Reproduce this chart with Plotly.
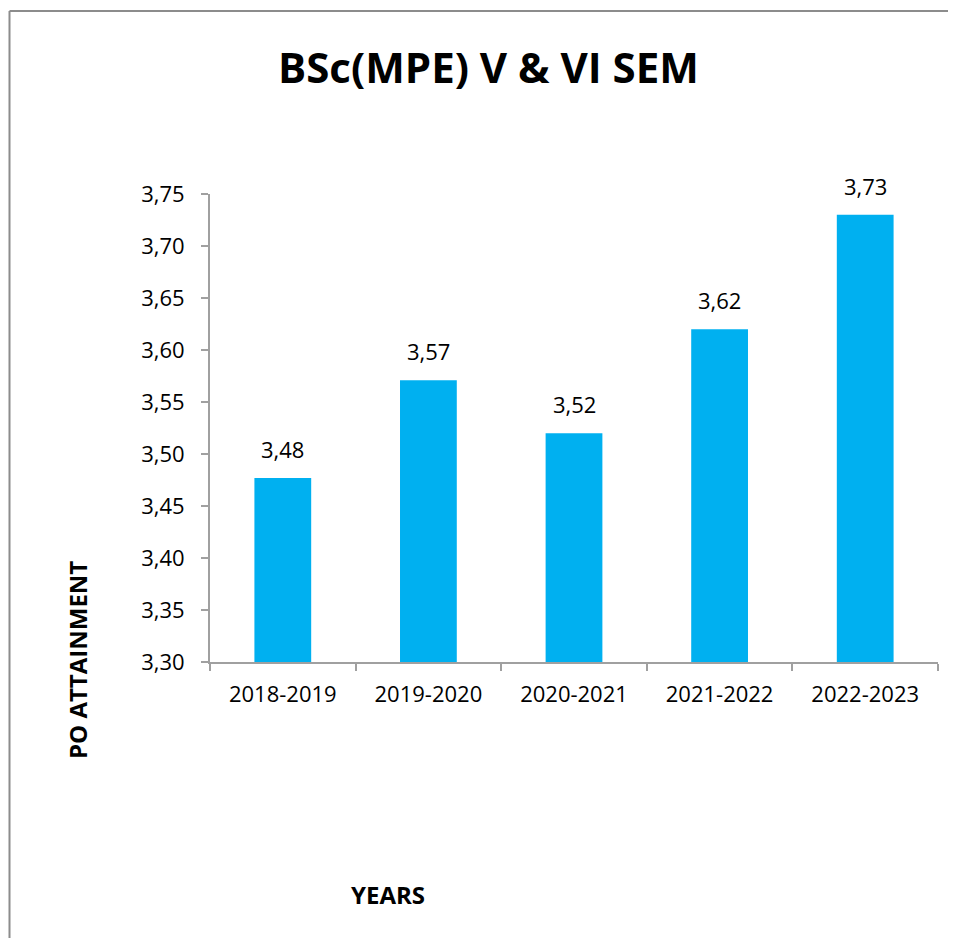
import plotly.graph_objects as go

years = ["2018-2019", "2019-2020", "2020-2021", "2021-2022", "2022-2023"]
attainment = [3.477, 3.571, 3.52, 3.62, 3.73]
y_ticks = [3.30, 3.35, 3.40, 3.45, 3.50, 3.55, 3.60, 3.65, 3.70, 3.75]

# page offset of the plot div (body margin)
OFF = 8
W, H = 956 - OFF, 946 - 2 * OFF
# plot area in page pixels (from the reference)
L, R, T, B = 210 - OFF, 938 - OFF, 194 - OFF, 662 - OFF


def px_x(x):
    return (x - OFF - L) / (R - L)


def px_y(y):
    return (B - (y - OFF)) / (B - T)


font = "Open Sans, Noto Sans, sans-serif"

fig = go.Figure(go.Bar(
    x=years, y=attainment,
    marker=dict(color="#00B0F0", line=dict(width=0)),
    cliponaxis=False,
))

# value labels above the bars
for yr, v in zip(years, attainment):
    fig.add_annotation(x=yr, y=v, text=f"{v:.2f}".replace(".", ","),
                       showarrow=False, yshift=29, yanchor="middle",
                       font=dict(size=22, color="black", family=font))

fig.update_layout(
    width=W, height=H,
    margin=dict(l=L, r=W - R, t=T, b=H - B),
    paper_bgcolor="white", plot_bgcolor="white",
    separators=", ",
    bargap=0.61,
    showlegend=False,
    font=dict(family=font, size=22, color="black"),
)
fig.update_yaxes(
    range=[3.30, 3.75], tickvals=y_ticks, tickformat=".2f",
    showgrid=False, zeroline=False,
    showline=True, linecolor="#A0A0A0", linewidth=2,
    ticks="outside", ticklen=7, tickcolor="#A0A0A0", tickwidth=2,
    tickfont=dict(size=22), ticklabelstandoff=12,
)
fig.update_xaxes(
    showgrid=False, showline=True, linecolor="#A0A0A0", linewidth=2,
    ticks="outside", ticklen=7, tickcolor="#A0A0A0", tickwidth=2,
    tickson="boundaries", tickfont=dict(size=22), ticklabelstandoff=12,
)

fig.add_annotation(text="<b>BSc(MPE) V & VI SEM</b>", xref="paper", yref="paper",
                   x=px_x(488), y=px_y(66), xanchor="center", yanchor="middle",
                   showarrow=False, font=dict(size=42, family=font))
fig.add_annotation(text="<b>PO ATTAINMENT</b>", xref="paper", yref="paper",
                   x=px_x(77), y=px_y(660), xanchor="center", yanchor="middle",
                   textangle=-90, showarrow=False, font=dict(size=24, family=font))
fig.add_annotation(text="<b>YEARS</b>", xref="paper", yref="paper",
                   x=px_x(388), y=px_y(894), xanchor="center", yanchor="middle",
                   showarrow=False, font=dict(size=24, family=font))

# chart frame: only the left and top edges show, the rest runs off the picture
frame = dict(color="#8C8C8C", width=2)
fig.add_shape(type="line", xref="paper", yref="paper",
              x0=px_x(OFF + 1.5), x1=px_x(OFF + 1.5), y0=px_y(1000), y1=px_y(11),
              line=frame, layer="below")
fig.add_shape(type="line", xref="paper", yref="paper",
              x0=px_x(OFF + 1.5), x1=px_x(1000), y0=px_y(11), y1=px_y(11),
              line=frame, layer="below")

fig.write_html("out.html")
